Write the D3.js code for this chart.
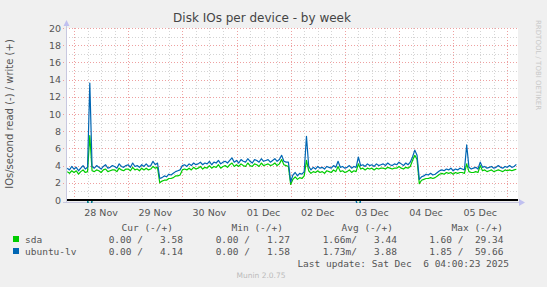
<!DOCTYPE html>
<html>
<head>
<meta charset="utf-8">
<script src="https://cdn.jsdelivr.net/npm/d3@7"></script>
<style>
  body { margin: 0; background: #f0f0f0; }
  svg { display: block; }
  text { font-family: "DejaVu Sans", sans-serif; }
  .mono { font-family: "DejaVu Sans Mono", monospace; white-space: pre; }
</style>
</head>
<body>
<div id="chart"></div>
<script>
// hourly samples, first one at 2025-11-27 21:00 UTC
const seriesStart = Date.UTC(2025, 10, 27, 21)

const sdaWrite = [
  3.3, 3.1, 3.4, 3.2, 3.4, 3.0, 3.3, 3.5, 3.2, 3.3,
  7.5,
  3.4, 3.3, 3.5, 3.4, 3.2, 3.5, 3.6, 3.3, 3.4, 3.5,
  3.5, 3.3, 3.7, 3.5, 3.4, 3.6, 3.6, 3.4, 3.8, 3.5,
  3.6, 3.4, 3.7, 3.5, 3.7, 3.5, 3.6, 3.9, 3.7, 3.8,
  2.0, 2.2, 2.3, 2.3, 2.5, 2.5, 2.6, 2.8, 2.8, 2.9,
  3.5, 3.6, 3.5, 3.7, 3.5, 3.8, 3.6, 3.7, 3.9, 3.6,
  3.8, 3.7, 4.0, 3.7, 3.9, 3.8, 4.1, 3.7, 3.9, 4.0,
  3.8, 4.1, 4.3, 3.9, 4.1, 3.9, 4.2, 4.0, 3.9, 4.3,
  4.0, 3.9, 4.2, 4.1, 3.9, 4.3, 4.0, 4.1, 4.2, 4.0,
  4.1, 4.3, 4.0, 4.2, 4.7, 4.1, 4.0, 3.9,
  1.8, 2.4, 2.7, 2.4, 2.6, 2.5, 2.8,
  4.6,
  3.4, 3.1, 3.3, 3.2, 3.4, 3.2, 3.3, 3.1, 3.4, 3.3,
  3.2, 3.5, 3.3, 3.9, 3.3, 3.4, 3.2, 3.3, 3.5, 3.2, 3.4, 3.3,
  4.2,
  3.6, 3.7, 3.5, 3.7, 3.6, 3.7, 3.5, 3.7, 3.6, 3.7, 3.7,
  3.6, 3.8, 3.7, 3.6, 3.7, 3.7, 3.9, 3.7, 3.6, 3.8, 3.7, 3.9,
  4.6, 5.2, 4.7,
  1.9, 2.3, 2.4, 2.5, 2.5, 2.6, 2.5, 2.6, 2.8, 3.0,
  3.1, 3.0, 3.2, 3.1, 3.2, 3.0, 3.2, 3.1, 3.2, 3.2, 3.1,
  4.2,
  3.3, 3.2, 3.2, 3.3, 3.2,
  4.0,
  3.4, 3.5, 3.3, 3.4, 3.5, 3.3, 3.4, 3.5, 3.4, 3.3, 3.5, 3.4, 3.5, 3.4, 3.5, 3.58
]

const lvWrite = [
  3.7, 3.5, 3.9, 3.6, 3.8, 3.4, 3.7, 4.0, 3.6, 3.8,
  13.6,
  3.9, 3.7, 4.0, 3.8, 3.6, 3.9, 4.1, 3.7, 3.8, 4.0,
  3.9, 3.7, 4.2, 3.9, 3.8, 4.0, 4.1, 3.8, 4.3, 3.9,
  4.0, 3.8, 4.1, 3.9, 4.2, 3.9, 4.0, 4.5, 4.1, 4.3,
  2.5, 2.6, 2.8, 2.7, 3.0, 2.9, 3.1, 3.3, 3.4, 3.5,
  4.0, 4.1, 3.9, 4.2, 4.0, 4.3, 4.1, 4.2, 4.4, 4.1,
  4.3, 4.2, 4.5, 4.1, 4.4, 4.3, 4.6, 4.2, 4.4, 4.5,
  4.3, 4.6, 4.9, 4.4, 4.6, 4.3, 4.7, 4.5, 4.4, 4.8,
  4.5, 4.3, 4.7, 4.6, 4.4, 4.8, 4.5, 4.6, 4.7, 4.4,
  4.6, 4.8, 4.5, 4.7, 5.2, 4.5, 4.4, 4.4,
  2.1, 2.9, 3.2, 2.8, 3.1, 3.0, 3.3,
  7.4,
  3.9, 3.5, 3.8, 3.6, 3.9, 3.7, 3.8, 3.6, 3.9, 3.8,
  3.7, 4.0, 3.8, 4.5, 3.8, 3.9, 3.7, 3.8, 4.0, 3.7, 3.9, 3.8,
  5.0,
  4.0, 4.1, 3.9, 4.2, 4.0, 4.1, 3.9, 4.2, 4.0, 4.1, 4.2,
  4.0, 4.3, 4.1, 4.0, 4.2, 4.1, 4.4, 4.2, 4.0, 4.3, 4.1, 4.4,
  5.0, 5.8, 5.2,
  2.4, 2.7, 2.8, 3.0, 2.9, 3.1, 2.9, 3.0, 3.2, 3.4,
  3.5, 3.4, 3.6, 3.5, 3.7, 3.4, 3.6, 3.5, 3.7, 3.6, 3.5,
  6.4,
  3.8, 3.6, 3.7, 3.8, 3.6,
  4.4,
  3.8, 3.9, 3.7, 3.8, 3.9, 3.7, 3.8, 4.0, 3.8, 3.7, 3.9, 3.8, 4.0, 3.8, 3.9, 4.14
]

// read side is zero except for two short bursts (sample index, value)
const sdaReadPeaks = [[10, 1.6], [129, 1.2]]
const lvReadPeaks = [[10, 1.85], [129, 1.4]]

const seriesNames = ['sda', 'ubuntu-lv']
const seriesColors = ['#00cc00', '#0066b3']
const legendHeaders = ['Cur (-/+)', 'Min (-/+)', 'Avg (-/+)', 'Max (-/+)']
const legendValues = [
  ['0.00 /   3.58', '0.00 /   1.27', '1.66m/   3.44', '1.60 /  29.34'],
  ['0.00 /   4.14', '0.00 /   1.58', '1.73m/   3.88', '1.85 /  59.66']
]
const yTicks = [0, 2, 4, 6, 8, 10, 12, 14, 16, 18, 20]

const W = 547, H = 287
const plot = { left: 66, right: 518, top: 28, bottom: 200 }

const svg = d3.select('#chart').append('svg')
  .attr('width', W)
  .attr('height', H)

svg.append('rect').attr('width', W).attr('height', H).attr('fill', '#f0f0f0')

const x = d3.scaleUtc()
  .domain([Date.UTC(2025, 10, 27, 20, 27), Date.UTC(2025, 11, 6, 4, 44)])
  .range([plot.left, plot.right])
const y = d3.scaleLinear().domain([0, 20]).range([plot.bottom, plot.top])

svg.append('rect')
  .attr('x', plot.left).attr('y', plot.top)
  .attr('width', plot.right - plot.left).attr('height', plot.bottom - plot.top)
  .attr('fill', '#ffffff')

const grid = svg.append('g').attr('shape-rendering', 'crispEdges')

// minor grid
grid.selectAll('line.hminor').data(d3.range(1, 20, 2))
  .enter().append('line')
  .attr('x1', plot.left).attr('x2', plot.right)
  .attr('y1', d => Math.round(y(d)) + 0.5).attr('y2', d => Math.round(y(d)) + 0.5)
  .attr('stroke', '#d4d4d4').attr('stroke-dasharray', '1,2')

grid.selectAll('line.vminor').data(x.ticks(d3.utcHour.every(6)).filter(t => t.getUTCHours() !== 0))
  .enter().append('line')
  .attr('x1', d => Math.round(x(d)) + 0.5).attr('x2', d => Math.round(x(d)) + 0.5)
  .attr('y1', plot.top).attr('y2', plot.bottom + 3)
  .attr('stroke', '#d4d4d4').attr('stroke-dasharray', '1,2')

// major grid
grid.selectAll('line.hmajor').data(yTicks.slice(1))
  .enter().append('line')
  .attr('x1', plot.left - 3).attr('x2', plot.right)
  .attr('y1', d => Math.round(y(d)) + 0.5).attr('y2', d => Math.round(y(d)) + 0.5)
  .attr('stroke', '#eea0a0').attr('stroke-dasharray', '1,2')

grid.selectAll('line.vmajor').data(d3.utcDay.range(x.domain()[0], x.domain()[1]))
  .enter().append('line')
  .attr('x1', d => Math.round(x(d)) + 0.5).attr('x2', d => Math.round(x(d)) + 0.5)
  .attr('y1', plot.top).attr('y2', plot.bottom + 3)
  .attr('stroke', '#eea0a0').attr('stroke-dasharray', '1,2')

// axes
const axisColor = '#c8c8e0'
svg.append('line')
  .attr('x1', plot.left + 0.5).attr('x2', plot.left + 0.5)
  .attr('y1', plot.top - 4).attr('y2', plot.bottom + 3)
  .attr('stroke', axisColor)
svg.append('line')
  .attr('x1', plot.left - 3).attr('x2', plot.right + 2)
  .attr('y1', plot.bottom + 2.5).attr('y2', plot.bottom + 2.5)
  .attr('stroke', axisColor)
svg.append('path')
  .attr('d', `M${plot.left - 2.5},${plot.top - 2}L${plot.left + 0.5},${plot.top - 8}L${plot.left + 3.5},${plot.top - 2}Z`)
  .attr('fill', '#c0c0f0')
svg.append('path')
  .attr('d', `M${plot.right + 1},${plot.bottom - 1}L${plot.right + 7},${plot.bottom + 2.5}L${plot.right + 1},${plot.bottom + 6}Z`)
  .attr('fill', '#c0c0f0')

// tick labels
svg.append('g').selectAll('text').data(yTicks)
  .enter().append('text')
  .attr('x', plot.left - 5).attr('y', d => y(d) + 3.5)
  .attr('text-anchor', 'end')
  .attr('font-size', '9.5px').attr('fill', '#555')
  .text(d => d)

const dayFmt = d3.utcFormat('%d %b')
const labelDays = d3.utcDay.range(Date.UTC(2025, 10, 28), Date.UTC(2025, 11, 6))
svg.append('g').selectAll('text').data(labelDays)
  .enter().append('text')
  .attr('x', d => x(d3.utcHour.offset(d, 12)))
  .attr('y', plot.bottom + 16)
  .attr('text-anchor', 'middle')
  .attr('font-size', '9.5px').attr('fill', '#555')
  .text(d => dayFmt(d))

// data lines
const clip = svg.append('clipPath').attr('id', 'plotclip')
clip.append('rect')
  .attr('x', plot.left).attr('y', plot.top)
  .attr('width', plot.right - plot.left).attr('height', plot.bottom - plot.top + 3)

const timeAt = i => seriesStart + i * 3600e3
const line = d3.line().x((d, i) => x(timeAt(i))).y(d => y(d))

const expand = peaks => {
  const arr = sdaWrite.map(() => 0)
  peaks.forEach(([i, v]) => { arr[i] = -v })
  return arr
}

const lines = svg.append('g').attr('clip-path', 'url(#plotclip)')
  .attr('fill', 'none').attr('stroke-width', 1.2).attr('stroke-linejoin', 'round')

;[expand(sdaReadPeaks), expand(lvReadPeaks)].forEach((s, k) => {
  lines.append('path').attr('d', line(s)).attr('stroke', seriesColors[k])
})

svg.append('line')
  .attr('x1', plot.left + 1).attr('x2', plot.right)
  .attr('y1', y(0)).attr('y2', y(0))
  .attr('stroke', '#000').attr('stroke-width', 2)

;[sdaWrite, lvWrite].forEach((s, k) => {
  lines.append('path').attr('d', line(s)).attr('stroke', seriesColors[k])
})

// title and side labels
svg.append('text')
  .attr('x', 262).attr('y', 22)
  .attr('text-anchor', 'middle')
  .attr('font-size', '12px').attr('fill', '#444')
  .text('Disk IOs per device - by week')

svg.append('text')
  .attr('transform', `translate(13, 114) rotate(-90)`)
  .attr('text-anchor', 'middle')
  .attr('font-size', '10px').attr('fill', '#555')
  .text('IOs/second read (-) / write (+)')

svg.append('text')
  .attr('transform', `translate(536, 20) rotate(90)`)
  .attr('font-size', '7px').attr('fill', '#c8c8c8')
  .text('RRDTOOL / TOBI OETIKER')

// legend
const legend = svg.append('g').attr('class', 'mono').attr('font-size', '9.5px').attr('fill', '#555')
const headerEnds = [173, 283, 393, 503]
const valueEnds = [183, 290, 397, 503.5]

legend.selectAll('text.hdr').data(legendHeaders)
  .enter().append('text')
  .attr('class', 'mono')
  .attr('x', (d, i) => headerEnds[i]).attr('y', 231)
  .attr('text-anchor', 'end')
  .text(d => d)

seriesNames.forEach((name, r) => {
  const yy = 243 + r * 12
  legend.append('rect')
    .attr('x', 13).attr('y', yy - 7).attr('width', 6).attr('height', 6)
    .attr('fill', seriesColors[r])
  legend.append('text').attr('class', 'mono').attr('x', 25).attr('y', yy).text(name)
  legend.selectAll(null).data(legendValues[r])
    .enter().append('text')
    .attr('class', 'mono')
    .attr('x', (d, i) => valueEnds[i]).attr('y', yy)
    .attr('text-anchor', 'end')
    .text(d => d)
})

legend.append('text').attr('class', 'mono')
  .attr('x', 509).attr('y', 267)
  .attr('text-anchor', 'end')
  .text('Last update: Sat Dec  6 04:00:23 2025')

svg.append('text')
  .attr('x', 261).attr('y', 278)
  .attr('text-anchor', 'middle')
  .attr('font-size', '7.5px').attr('fill', '#bbb')
  .text('Munin 2.0.75')
</script>
</body>
</html>
